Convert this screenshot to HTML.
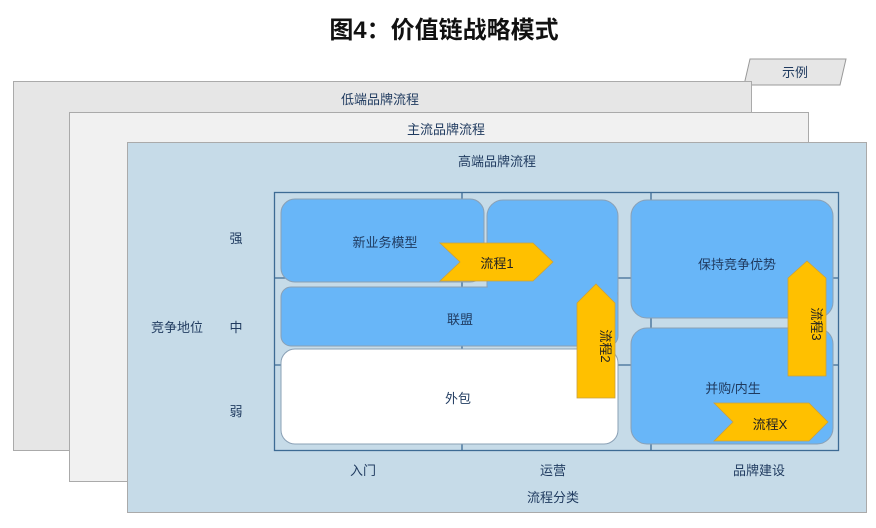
<!DOCTYPE html>
<html><head><meta charset="utf-8"><style>
html,body{margin:0;padding:0;background:#fff;width:876px;height:528px;overflow:hidden}
svg text{font-family:"Liberation Sans","Noto Sans CJK SC",sans-serif;fill:#1f3a5f;font-size:13px}
</style></head><body>
<svg width="876" height="528" viewBox="0 0 876 528" xmlns="http://www.w3.org/2000/svg">
<text x="444" y="38" text-anchor="middle" style="font-size:24px;font-weight:bold;fill:#111">图4：价值链战略模式</text>
<polygon points="750,59 846,59 840,85 744,85" fill="#e6e6e6" stroke="#999"/>
<text x="795" y="77" text-anchor="middle">示例</text>
<rect x="13.5" y="81.5" width="738" height="369" fill="#e6e6e6" stroke="#aaa"/>
<text x="380" y="104" text-anchor="middle">低端品牌流程</text>
<rect x="69.5" y="112.5" width="739" height="369" fill="#f1f1f1" stroke="#aaa"/>
<text x="446" y="134" text-anchor="middle">主流品牌流程</text>
<rect x="127.5" y="142.5" width="739" height="370" fill="#c6dbe8" stroke="#aaa"/>
<text x="497" y="166" text-anchor="middle">高端品牌流程</text>
<g stroke="#3d6b94" stroke-width="1.3" fill="none">
<rect x="274.5" y="192.5" width="564" height="258"/>
<line x1="462" y1="192" x2="462" y2="451"/><line x1="651" y1="192" x2="651" y2="451"/>
<line x1="274" y1="278" x2="838" y2="278"/><line x1="274" y1="365" x2="838" y2="365"/>
</g>
<g stroke="#8aa0b5" stroke-width="1" fill="#68b6f8">
<rect x="487" y="200" width="131" height="146" rx="16"/>
<rect x="281" y="199" width="203" height="83" rx="14"/>
<rect x="281" y="287" width="337" height="59" rx="10"/>
<rect x="281" y="349" width="337" height="95" rx="14" fill="#fff"/>
<rect x="631" y="200" width="202" height="118" rx="16"/>
<rect x="631" y="328" width="202" height="116" rx="16"/>
</g>
<g fill="#68b6f8">
<rect x="487.8" y="200.8" width="129.4" height="144.4" rx="15"/>
<rect x="281.8" y="287.8" width="335.4" height="57.4" rx="9"/>
</g>
<g fill="#ffc000" stroke="#c9a040" stroke-width="0.8">
<polygon points="440,243 533,243 553,262 533,281 440,281 460,262"/>
<polygon points="577,303 596,284 615,303 615,398 577,398"/>
<polygon points="788,278 807,261 826,278 826,376 788,376"/>
<polygon points="714,403 809,403 828,422 809,441 714,441 733,422"/>
</g>
<text x="385" y="247" text-anchor="middle">新业务模型</text>
<text x="460" y="324" text-anchor="middle">联盟</text>
<text x="458" y="403" text-anchor="middle">外包</text>
<text x="737" y="269" text-anchor="middle">保持竞争优势</text>
<text x="733" y="393" text-anchor="middle">并购/内生</text>
<text x="497" y="268" text-anchor="middle" style="fill:#222">流程1</text>
<text x="770" y="429" text-anchor="middle" style="fill:#222">流程X</text>
<text transform="translate(601,346) rotate(90)" text-anchor="middle" style="fill:#222">流程2</text>
<text transform="translate(812,324) rotate(90)" text-anchor="middle" style="fill:#222">流程3</text>
<text x="236" y="243" text-anchor="middle">强</text>
<text x="236" y="332" text-anchor="middle">中</text>
<text x="236" y="416" text-anchor="middle">弱</text>
<text x="177" y="332" text-anchor="middle">竞争地位</text>
<text x="363" y="475" text-anchor="middle">入门</text>
<text x="553" y="475" text-anchor="middle">运营</text>
<text x="759" y="475" text-anchor="middle">品牌建设</text>
<text x="553" y="502" text-anchor="middle">流程分类</text>
</svg>
</body></html>
